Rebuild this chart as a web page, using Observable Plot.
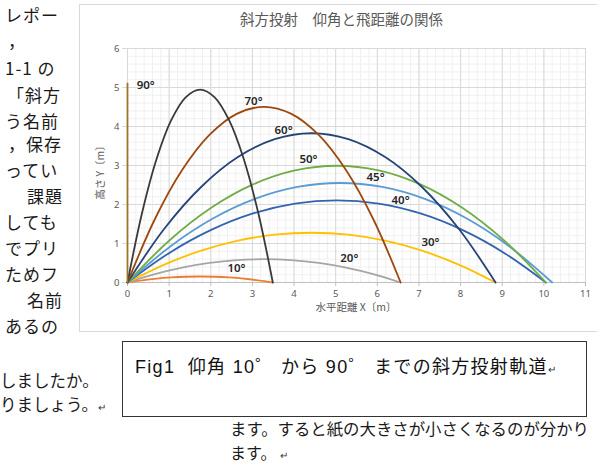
<!DOCTYPE html>
<html><head><meta charset="utf-8">
<script src="https://cdn.jsdelivr.net/npm/d3@7"></script>
<script src="https://cdn.jsdelivr.net/npm/@observablehq/plot@0.6"></script>
<style>
body{margin:0;background:#fff;}
#page{position:relative;width:597px;height:464px;overflow:hidden;background:#fff;font-family:"Noto Sans CJK JP","Noto Sans",sans-serif;}
.doc{position:absolute;font-size:17px;line-height:20px;color:#1a1a1a;white-space:nowrap;letter-spacing:1px;}
.ret{font-size:10px;color:#333;}
#chart{position:absolute;left:79px;top:4px;width:540px;height:326px;border:1px solid #d9d9d9;background:#fff;}
#plot{position:absolute;left:0;top:0;}
.ct{position:absolute;color:#595959;white-space:nowrap;font-family:"Noto Sans CJK JP",sans-serif;}
#cap{position:absolute;left:122px;top:341px;width:463px;height:74px;border:1px solid #333;background:#fff;}
#capt{position:absolute;left:12px;top:10px;font-size:18px;letter-spacing:1.3px;color:#111;white-space:nowrap;font-family:"Liberation Sans","Noto Sans CJK JP",sans-serif;}
</style></head>
<body><div id="page">
<div class="doc" style="left:5px;top:5px">レポー</div>
<div class="doc" style="left:8px;top:31px">，</div>
<div class="doc" style="left:5px;top:58px">1-1 の</div>
<div class="doc" style="left:7px;top:85px">「斜方</div>
<div class="doc" style="left:5px;top:111px">う名前</div>
<div class="doc" style="left:8px;top:134px">，保存</div>
<div class="doc" style="left:5px;top:160px">ってい</div>
<div class="doc" style="left:27px;top:186px">課題</div>
<div class="doc" style="left:5px;top:212px">しても</div>
<div class="doc" style="left:5px;top:238px">でプリ</div>
<div class="doc" style="left:5px;top:264px">ためフ</div>
<div class="doc" style="left:27px;top:290px">名前</div>
<div class="doc" style="left:5px;top:316px">あるの</div>
<div class="doc" style="left:0px;top:370px;letter-spacing:0;font-size:16.5px">しましたか。</div>
<div class="doc" style="left:0px;top:394px;letter-spacing:0;font-size:16.5px">りましょう。<span class="ret">↵</span></div>
<div class="doc" style="left:230px;top:418px;letter-spacing:0;font-size:16.4px">ます。すると紙の大きさが小さくなるのが分かり</div>
<div class="doc" style="left:230px;top:444px;letter-spacing:0;font-size:16px;line-height:16px">ます。 <span class="ret">↵</span></div>

<div id="chart">
  <div id="plot"></div>
  <div class="ct" id="title" style="left:0;width:523px;top:3px;text-align:center;font-size:14.5px;color:#595959">斜方投射　仰角と飛距離の関係</div>
  <div class="ct" style="left:276px;top:294px;transform:translateX(-50%);font-size:10.5px">水平距離 X〔m〕</div>
  <div class="ct" style="left:19px;top:165px;transform:translate(-50%,-50%) rotate(-90deg);font-size:10.5px">高さ Y〔m〕</div>
</div>

<div id="cap"><div id="capt">Fig1&nbsp; 仰角 10゜ から 90゜ までの斜方投射軌道<span class="ret">↵</span></div></div>
</div>
<script>
// Elevation angles (degrees)
const angles = [10, 20, 30, 40, 45, 50, 60, 70, 80, 90];
// Trajectory points (x: horizontal distance m, y: height m)
const x10 = [0, 0.349, 0.698, 1.047, 1.396, 1.745, 2.094, 2.443, 2.792, 3.141, 3.49];
const y10 = [0, 0.055, 0.099, 0.129, 0.148, 0.154, 0.148, 0.129, 0.099, 0.055, 0];
const x20 = [0, 0.656, 1.312, 1.968, 2.624, 3.28, 3.936, 4.592, 5.248, 5.904, 6.56];
const y20 = [0, 0.215, 0.382, 0.501, 0.573, 0.597, 0.573, 0.501, 0.382, 0.215, 0];
const x30 = [0, 0.884, 1.768, 2.652, 3.536, 4.42, 5.304, 6.188, 7.072, 7.956, 8.84];
const y30 = [0, 0.459, 0.816, 1.072, 1.225, 1.276, 1.225, 1.072, 0.816, 0.459, 0];
const x40 = [0, 1.005, 2.01, 3.015, 4.02, 5.025, 6.03, 7.035, 8.04, 9.045, 10.05];
const y40 = [0, 0.759, 1.348, 1.77, 2.023, 2.107, 2.023, 1.77, 1.348, 0.759, 0];
const x45 = [0, 1.02, 2.04, 3.06, 4.08, 5.1, 6.12, 7.14, 8.16, 9.18, 10.2];
const y45 = [0, 0.918, 1.633, 2.143, 2.449, 2.551, 2.449, 2.143, 1.633, 0.918, 0];
const x50 = [0, 1.005, 2.01, 3.015, 4.02, 5.025, 6.03, 7.035, 8.04, 9.045, 10.05];
const y50 = [0, 1.078, 1.916, 2.515, 2.874, 2.994, 2.874, 2.515, 1.916, 1.078, 0];
const x60 = [0, 0.884, 1.768, 2.652, 3.536, 4.42, 5.304, 6.188, 7.072, 7.956, 8.84];
const y60 = [0, 1.378, 2.449, 3.215, 3.674, 3.827, 3.674, 3.215, 2.449, 1.378, 0];
const x70 = [0, 0.656, 1.312, 1.968, 2.624, 3.28, 3.936, 4.592, 5.248, 5.904, 6.56];
const y70 = [0, 1.622, 2.883, 3.784, 4.325, 4.505, 4.325, 3.784, 2.883, 1.622, 0];
const x80 = [0, 0.349, 0.698, 1.047, 1.396, 1.745, 2.094, 2.443, 2.792, 3.141, 3.49];
const y80 = [0, 1.781, 3.166, 4.155, 4.749, 4.947, 4.749, 4.155, 3.166, 1.781, 0];
const x90 = [0, 0];
const y90 = [0, 5.1];
// Angle labels and their anchor points (data coordinates)
const labelText = ["90°", "70°", "60°", "50°", "45°", "40°", "30°", "20°", "10°"];
const labelX = [0.22, 2.81, 3.53, 4.13, 5.74, 6.34, 7.06, 5.11, 2.4];
const labelY = [5.06, 4.64, 3.91, 3.16, 2.69, 2.11, 1.04, 0.63, 0.37];
const xTicks = [0, 1, 2, 3, 4, 5, 6, 7, 8, 9, 10, 11];
const yTicks = [0, 1, 2, 3, 4, 5, 6];

const colors = ["#ED7D31", "#A5A5A5", "#FFC000", "#3464AE", "#5B9BD5", "#70AD47", "#264478", "#9E480E", "#3a3a3a", "#9a7526"];

const xsAll = [x10, x20, x30, x40, x45, x50, x60, x70, x80, x90];
const ysAll = [y10, y20, y30, y40, y45, y50, y60, y70, y80, y90];
const rows = angles.flatMap((a, k) => xsAll[k].map((x, i) => ({angle: a, x, y: ysAll[k][i]})));
const labels = labelText.map((t, i) => ({t, x: labelX[i], y: labelY[i]}));
const minorX = d3.range(0, 55).map(i => i / 5);
const minorY = d3.range(0, 30).map(i => i / 5);

const chart = Plot.plot({
  width: 540, height: 326,
  marginLeft: 47, marginRight: 35, marginTop: 43, marginBottom: 49,
  x: {domain: [0, 11]},
  y: {domain: [0, 6]},
  color: {domain: angles, range: colors},
  style: {fontFamily: "'Noto Sans', sans-serif", background: "transparent"},
  marks: [
    Plot.gridX(minorX, {stroke: "#f0f0f0", strokeOpacity: 1}),
    Plot.gridY(minorY, {stroke: "#f0f0f0", strokeOpacity: 1}),
    Plot.gridX(xTicks, {stroke: "#d9d9d9", strokeOpacity: 1}),
    Plot.gridY(yTicks, {stroke: "#d9d9d9", strokeOpacity: 1}),
    Plot.axisX({ticks: xTicks, tickFormat: d3.format("d"), tickSize: 4, tickPadding: 4, fontSize: 9.5, color: "#595959", stroke: "#bfbfbf", label: null}),
    Plot.axisY({ticks: yTicks, tickFormat: d3.format("d"), tickSize: 5, tickPadding: 3, fontSize: 9.5, color: "#595959", stroke: "#d9d9d9", label: null}),
    Plot.ruleY([0], {stroke: "#bfbfbf"}),
    Plot.ruleX([0], {stroke: "#d9d9d9"}),
    Plot.line(rows, {x: "x", y: "y", z: "angle", stroke: "angle", strokeWidth: 1.8, curve: "catmull-rom"}),
    Plot.text(labels, {x: "x", y: "y", text: "t", textAnchor: "start", fontSize: 11.5, fontWeight: 600, fill: "#262626"})
  ]
});
document.getElementById("plot").appendChild(chart);
</script>
</body></html>
